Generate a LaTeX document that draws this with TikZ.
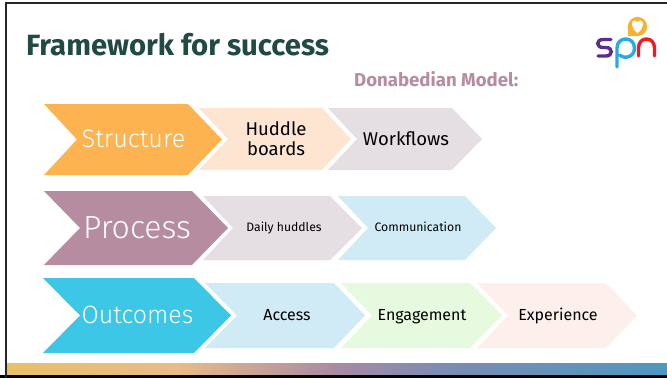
\documentclass[tikz,border=0pt]{standalone}
\usepackage{fontspec}
\setmainfont{Fira Sans}
\newfontfamily\lightfont{Fira Sans Light}
\usepackage{xcolor}
\usetikzlibrary{positioning}
\definecolor{titlegreen}{HTML}{214A45}
\definecolor{mauve}{HTML}{B68CA0}
\definecolor{orange1}{HTML}{FEB351}
\definecolor{peach}{HTML}{FDE5D2}
\definecolor{greyrose}{HTML}{E5DEE3}
\definecolor{sky}{HTML}{3DC7E6}
\definecolor{palesky}{HTML}{D0EBF5}
\definecolor{palegreen}{HTML}{E6FADF}
\definecolor{palerose}{HTML}{FDF0EC}
\definecolor{logoyellow}{HTML}{F5B335}
\definecolor{logopurple}{HTML}{5B2D8E}
\definecolor{logoblue}{HTML}{29ABE2}
\definecolor{logored}{HTML}{ED1C24}
\definecolor{bara}{HTML}{E8C068}
\definecolor{barb}{HTML}{E8BB88}
\definecolor{barc}{HTML}{A88AA4}
\definecolor{bard}{HTML}{7C8CB2}
\definecolor{bare}{HTML}{4F98C0}
\pgfdeclarehorizontalshading{barshade}{100bp}{color(0bp)=(bara);color(25bp)=(bara);
 color(38bp)=(barb);color(50bp)=(barc);color(58bp)=(bard);color(75bp)=(bare);color(100bp)=(bare)}
\begin{document}
\begin{tikzpicture}[x=1pt,y=1pt]
\tikzstyle{every node}+=[inner sep=0pt,align=center]
\tikzstyle{bigtext}=[white,anchor=base]
\tikzstyle{smalltext}=[black,anchor=base]
\tikzstyle{logoline}=[line width=3.4,line cap=round]
\useasboundingbox (0,0) rectangle (667,-378);
\fill [white] (0,0) rectangle (667,-378);
% bottom bar and frame
\shade [shading=barshade] (6,-363) rectangle (667,-375);
\fill [black] (0,-375) rectangle (667,-378);
\fill [black!85] (4.7,-2.3) rectangle (667,-4.3);
\fill [black!85] (4.7,-2.3) rectangle (6.7,-378);
% heading
\node [anchor=base west,text=titlegreen,font=\bfseries\fontsize{29.3}{29.3}\selectfont] (title) at (26,-55) {Framework for success};
\node [anchor=base west,text=mauve,font=\bfseries\fontsize{18.6}{18.6}\selectfont] (model) at (354,-86) {Donabedian Model:};
% logo
\fill [logoyellow] (637.5,-26.5) circle (9.6);
\fill [logoyellow] (628,-36) -- (628,-26) -- (638,-36) -- cycle;
\fill [white] (637.5,-33) .. controls (630.5,-28) and (631,-20.5) .. (634.5,-20.5) .. controls (636,-20.5) and (637,-21.5) .. (637.5,-22.5) .. controls (638,-21.5) and (639,-20.5) .. (640.5,-20.5) .. controls (644,-20.5) and (644.5,-28) .. (637.5,-33) -- cycle;
\draw [logoline,logopurple] (611,-39.5) -- (603,-39.5) .. controls (596,-39.5) and (596,-47.5) .. (603,-47.5) -- (606,-47.5) .. controls (613,-47.5) and (613,-56) .. (606,-56) -- (598,-56);
\draw [logoline,logoblue] (617,-67) -- (617,-48) .. controls (617,-36) and (634.5,-36) .. (634.5,-48) .. controls (634.5,-58) and (623,-59) .. (620,-55);
\draw [logoline,logored] (638.5,-56) -- (638.5,-48) .. controls (638.5,-36) and (654.5,-36) .. (654.5,-48) -- (654.5,-56);
% first row
\fill [orange1] (44,-104) -- (188,-104) -- (222,-139.5) -- (188,-175) -- (44,-175) -- (77,-139.5) -- cycle;
\fill [peach] (199,-108) -- (322,-108) -- (351,-139) -- (322,-170) -- (199,-170) -- (228,-139) -- cycle;
\fill [greyrose] (328,-108) -- (452,-108) -- (482,-139) -- (452,-170) -- (328,-170) -- (357,-139) -- cycle;
\node [bigtext,font=\lightfont\fontsize{25.3}{25.3}\selectfont] (structure) at (133.5,-147) {Structure};
\node [smalltext,font=\fontsize{18.5}{20}\selectfont] (huddle) at (276,-135) {Huddle};
\node [smalltext,font=\fontsize{18.5}{20}\selectfont] (boards) at (276,-155) {boards};
\node [smalltext,font=\fontsize{18.5}{18.5}\selectfont] (workflows) at (406,-145) {Workflows};
% second row
\fill [mauve] (44,-191) -- (192,-191) -- (228,-228) -- (192,-265) -- (44,-265) -- (80,-228) -- cycle;
\fill [greyrose] (203,-196) -- (330,-196) -- (362,-228) -- (330,-260) -- (203,-260) -- (233,-228) -- cycle;
\fill [palesky] (338,-196) -- (465,-196) -- (496,-228) -- (465,-260) -- (338,-260) -- (368,-228) -- cycle;
\node [bigtext,font=\lightfont\fontsize{32}{32}\selectfont] (process) at (137,-238) {Process};
\node [smalltext,font=\fontsize{12.2}{12.2}\selectfont] (huddles) at (284,-231) {Daily huddles};
\node [smalltext,font=\fontsize{12.2}{12.2}\selectfont] (communication) at (418,-231) {Communication};
% third row
\fill [sky] (43,-278) -- (194,-278) -- (231,-315.5) -- (194,-353) -- (43,-353) -- (80,-315.5) -- cycle;
\fill [palesky] (205,-283) -- (334,-283) -- (365,-315.5) -- (334,-348) -- (205,-348) -- (237,-315.5) -- cycle;
\fill [palegreen] (341,-283) -- (470,-283) -- (502,-315.5) -- (470,-348) -- (341,-348) -- (372,-315.5) -- cycle;
\fill [palerose] (477,-283) -- (606,-283) -- (637,-315.5) -- (606,-348) -- (477,-348) -- (508,-315.5) -- cycle;
\node [bigtext,font=\lightfont\fontsize{25}{25}\selectfont] (outcomes) at (137.5,-323.5) {Outcomes};
\node [smalltext,font=\fontsize{16}{16}\selectfont] (access) at (287,-320) {Access};
\node [smalltext,font=\fontsize{16}{16}\selectfont] (engagement) at (422,-320) {Engagement};
\node [smalltext,font=\fontsize{16}{16}\selectfont] (experience) at (558,-320) {Experience};
\end{tikzpicture}
\end{document}
